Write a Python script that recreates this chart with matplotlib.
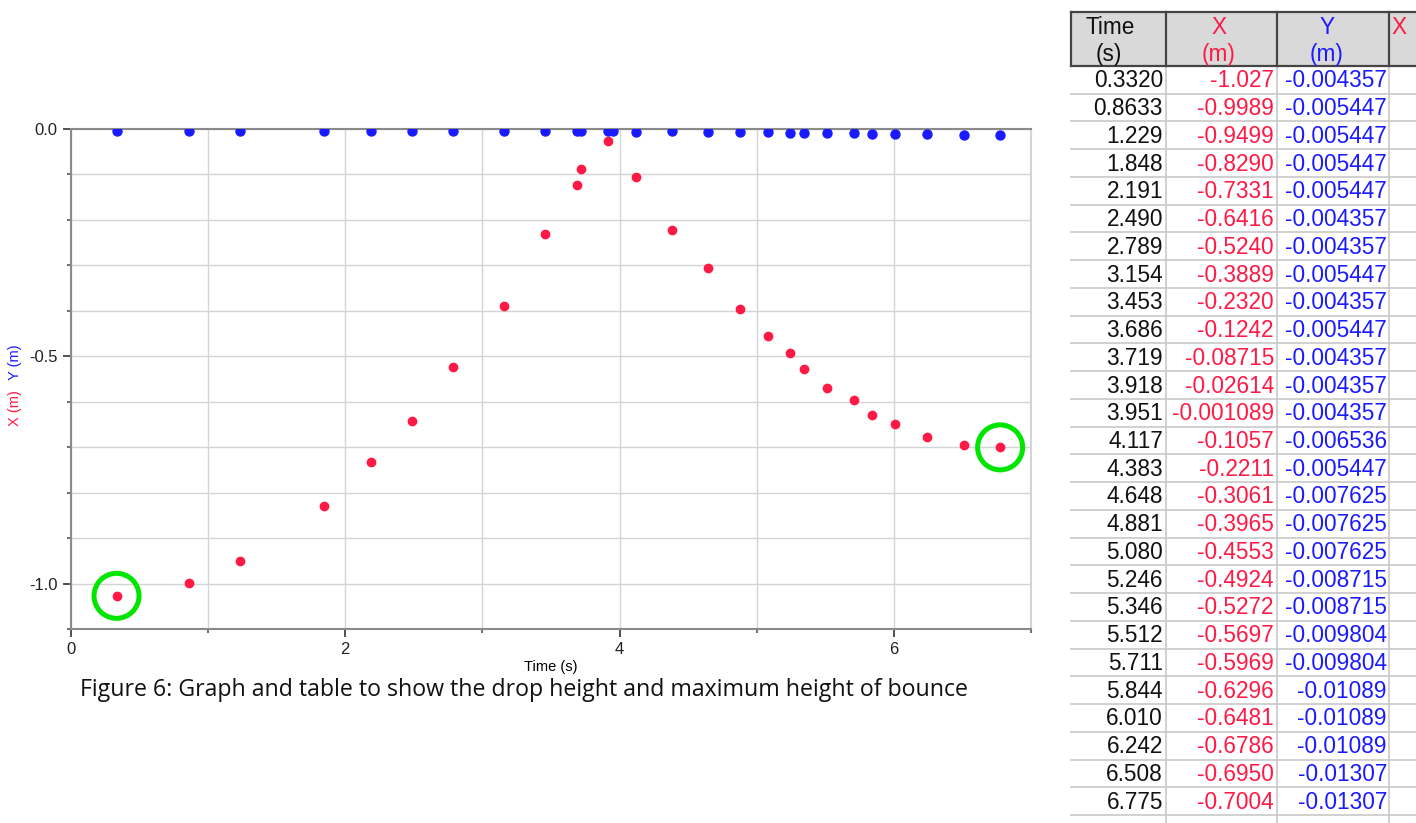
import matplotlib.pyplot as plt
from matplotlib.patches import Rectangle
from matplotlib.ticker import MultipleLocator, FormatStrFormatter

# values as printed in the table
time_s = ["0.3320", "0.8633", "1.229", "1.848", "2.191", "2.490", "2.789", "3.154",
          "3.453", "3.686", "3.719", "3.918", "3.951", "4.117", "4.383", "4.648",
          "4.881", "5.080", "5.246", "5.346", "5.512", "5.711", "5.844", "6.010",
          "6.242", "6.508", "6.775"]
x_m = ["-1.027", "-0.9989", "-0.9499", "-0.8290", "-0.7331", "-0.6416", "-0.5240",
       "-0.3889", "-0.2320", "-0.1242", "-0.08715", "-0.02614", "-0.001089", "-0.1057",
       "-0.2211", "-0.3061", "-0.3965", "-0.4553", "-0.4924", "-0.5272", "-0.5697",
       "-0.5969", "-0.6296", "-0.6481", "-0.6786", "-0.6950", "-0.7004"]
y_m = ["-0.004357", "-0.005447", "-0.005447", "-0.005447", "-0.005447", "-0.004357",
       "-0.004357", "-0.005447", "-0.004357", "-0.005447", "-0.004357", "-0.004357",
       "-0.004357", "-0.006536", "-0.005447", "-0.007625", "-0.007625", "-0.007625",
       "-0.008715", "-0.008715", "-0.009804", "-0.009804", "-0.01089", "-0.01089",
       "-0.01089", "-0.01307", "-0.01307"]
# points ringed in green: drop height and last bounce
circled = [0, 26]
caption = "Figure 6: Graph and table to show the drop height and maximum height of bounce"

t = [float(v) for v in time_s]
xv = [float(v) for v in x_m]
yv = [float(v) for v in y_m]

RED = '#ff1a45'
BLUE = '#1a1aff'
W, H = 1416, 823

plt.rcParams['font.family'] = ['Liberation Sans', 'DejaVu Sans']
fig = plt.figure(figsize=(W / 100, H / 100), dpi=100)

# --- graph ---
ax = fig.add_axes([71 / W, 1 - 629 / H, 960 / W, 500 / H])
ax.scatter(t, xv, s=36, color=RED, zorder=3)
ax.scatter(t, yv, s=42, color=BLUE, zorder=4)
ax.scatter([t[i] for i in circled], [xv[i] for i in circled], s=1050,
           facecolors='none', edgecolors='#00e600', linewidths=3.6, zorder=5, clip_on=False)
ax.set_xlim(0, 7)
ax.set_ylim(-1.1, 0.0)
ax.xaxis.set_major_locator(MultipleLocator(2))
ax.xaxis.set_minor_locator(MultipleLocator(1))
ax.yaxis.set_major_locator(MultipleLocator(0.5))
ax.yaxis.set_minor_locator(MultipleLocator(0.1))
ax.yaxis.set_major_formatter(FormatStrFormatter('%.1f'))
ax.grid(True, which='both', color='#d4d4d4', linewidth=1.0)
ax.set_axisbelow(True)
for s in ax.spines.values():
    s.set_color('#8a8a8a')
    s.set_linewidth(1.5)
ax.spines['right'].set_color('#d4d4d4')
ax.tick_params(which='major', length=6, width=1.2, color='#333333', labelsize=12, labelcolor='#222222')
ax.tick_params(which='minor', length=3, width=1.2, color='#555555')
ax.set_xlabel('Time (s)', fontsize=10.5, labelpad=2)

# --- overlay in pixel coordinates for labels, caption and table ---
ov = fig.add_axes([0, 0, 1, 1])
ov.set_xlim(0, W)
ov.set_ylim(H, 0)
ov.axis('off')

ov.text(15, 362, 'Y (m)', rotation=90, color=BLUE, fontsize=10.5, ha='center', va='center')
ov.text(15, 408, 'X (m)', rotation=90, color=RED, fontsize=10.5, ha='center', va='center')
ov.text(80, 690, caption, fontsize=16.7, family=['Open Sans', 'DejaVu Sans'], va='center', color='#111111')

# table
left, c1, c2, c3, right = 1071, 1166, 1277, 1389, W
top, hbot, rh = 12, 66, 27.74
ov.add_patch(Rectangle((left, top), right - left, hbot - top, facecolor='#d9d9d9', edgecolor='none'))
for k in range(1, len(time_s) + 1):
    ov.plot([left, right], [hbot + k * rh] * 2, color='#c8c8c8', lw=1.2)
for xc in (c1, c2, c3):
    ov.plot([xc, xc], [hbot, H], color='#c8c8c8', lw=1.2)
for yh in (top, hbot):
    ov.plot([left, right], [yh, yh], color='#444444', lw=1.6)
for xc in (left, c1, c2, c3):
    ov.plot([xc, xc], [top, hbot], color='#444444', lw=1.6)

fs = 16.3
ov.text(1110, 27, 'Time', fontsize=fs, ha='center', va='center', color='#111111')
ov.text(1109, 54, '(s)', fontsize=fs, ha='center', va='center', color='#111111')
ov.text(1219, 27, 'X', fontsize=fs, ha='center', va='center', color=RED)
ov.text(1219, 54, '(m)', fontsize=fs, ha='center', va='center', color=RED)
ov.text(1327, 27, 'Y', fontsize=fs, ha='center', va='center', color=BLUE)
ov.text(1327, 54, '(m)', fontsize=fs, ha='center', va='center', color=BLUE)
ov.text(1391, 27, 'X', fontsize=fs, ha='left', va='center', color=RED)
for i in range(len(time_s)):
    yc = hbot + (i + 0.5) * rh + 1
    ov.text(c1 - 3, yc, time_s[i], fontsize=fs, ha='right', va='center', color='#111111')
    ov.text(c2 - 3, yc, x_m[i], fontsize=fs, ha='right', va='center', color=RED)
    ov.text(c3 - 2, yc, y_m[i], fontsize=fs, ha='right', va='center', color=BLUE)

plt.savefig('out.png', dpi=100)
